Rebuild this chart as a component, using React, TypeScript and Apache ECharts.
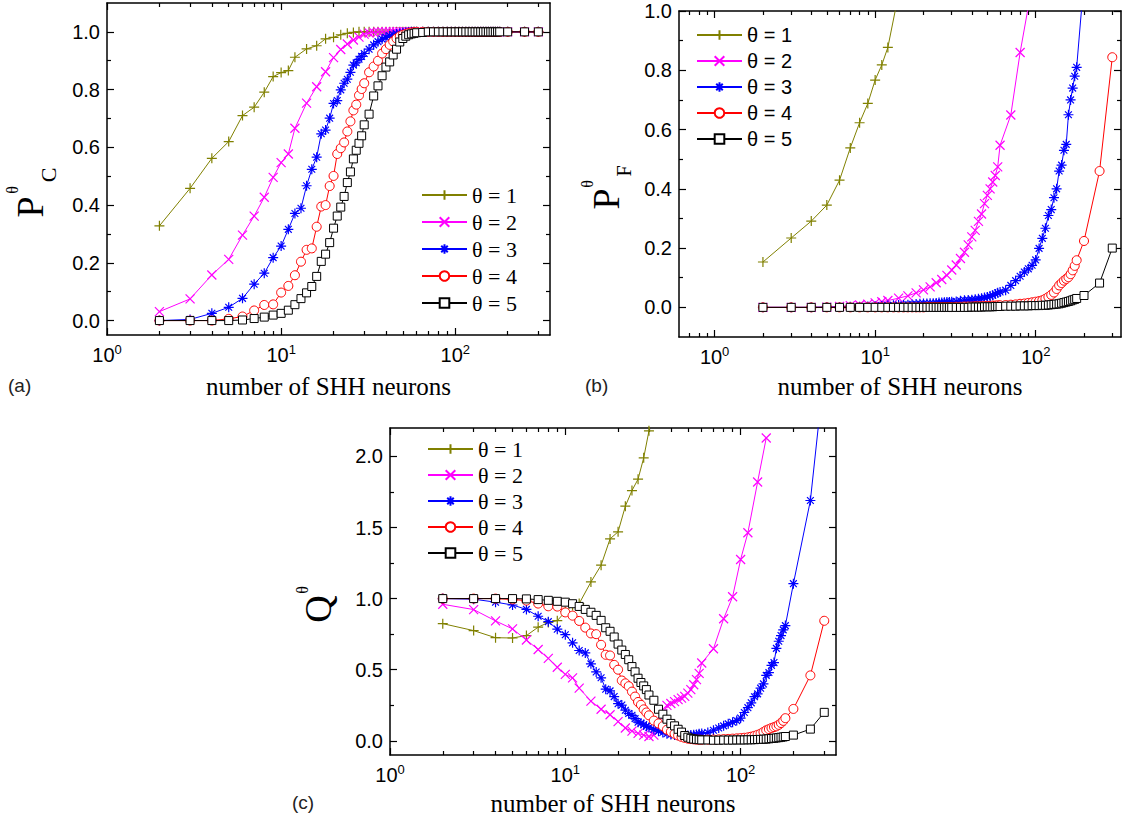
import React, { useEffect, useRef } from 'react';
import * as echarts from 'echarts';

const _ = null;

// number of SHH neurons (shared sampling grid)
const N = [2,3,4,5,6,7,8,9,10,11,12,13,14,15,16,17,18,19,20,21,22,23,24,25,26,27,28,29,30,
  32,34,36,38,40,42,44,46,48,50,52,54,56,58,60,
  65,70,75,80,85,90,95,100,105,110,115,120,125,130,135,140,145,150,155,160,165,170,175,180,185,190,195,200,
  250,300];

// (a) P_C
const pcT1 = [0.328,0.458,0.562,0.62,0.71,0.739,0.791,0.845,0.859,0.866,0.912,_,0.941,_,0.952,_,0.976,_,0.981,_,0.99,_,0.995,_,0.998,_,1,_,1,
  1,1,1,1,1,1,1,1,1,1,1,1,1,1,1,
  1,1,1,1,1,1,1,1,1,1,1,1,1,1,1,1,1,1,1,1,1,1,1,1,_,_,_,1,
  1,1];
const pcT2 = [0.031,0.075,0.158,0.212,0.296,0.362,0.427,0.496,0.547,0.577,0.666,_,0.753,_,0.81,_,0.862,_,0.911,_,0.939,_,0.958,_,0.972,_,0.982,_,0.992,
  0.996,0.998,1,1,1,1,1,1,1,1,1,1,1,1,1,
  1,1,1,1,1,1,1,1,1,1,1,1,1,1,1,1,1,1,1,1,1,1,1,1,_,_,_,1,
  1,1];
const pcT3 = [0,0.004,0.025,0.046,0.077,0.126,0.164,0.218,0.258,0.316,0.371,0.389,0.467,0.524,0.566,0.647,0.66,0.701,0.752,0.762,0.799,0.822,0.836,0.86,0.885,0.893,0.905,0.915,0.925,
  0.94,0.955,0.966,0.975,0.981,0.986,0.99,0.993,0.995,0.997,0.998,0.999,1,1,1,
  1,1,1,1,1,1,1,1,1,1,1,1,1,1,1,1,1,1,1,1,1,1,1,1,_,_,_,1,
  1,1];
const pcT4 = [0,0,0,0.006,0.014,0.035,0.054,0.056,0.097,0.12,0.157,0.204,0.245,0.25,0.325,0.395,0.4,0.466,0.501,0.577,0.597,0.617,0.655,0.69,0.728,0.748,0.78,0.802,0.822,
  0.86,0.88,0.9,0.925,0.94,0.955,0.967,0.977,0.985,0.99,0.993,0.996,0.998,0.999,1,
  1,1,1,1,1,1,1,1,1,1,1,1,1,1,1,1,1,1,1,1,1,1,1,1,_,_,_,1,
  1,1];
const pcT5 = [0,0,0,0,0.002,0.007,0.012,0.019,0.025,0.036,0.055,0.076,0.096,0.118,0.153,0.205,0.23,0.27,0.32,0.362,0.393,0.43,0.478,0.515,0.56,0.59,0.614,0.64,0.678,
  0.715,0.778,0.813,0.848,0.878,0.896,0.92,0.94,0.965,0.977,0.985,0.99,0.993,0.995,0.997,
  0.998,1,1,1,1,1,1,1,1,1,1,1,1,1,1,1,1,1,1,1,1,1,1,1,_,_,_,1,
  1,1];

// (b) P_F
const pfT1 = [0.153,0.234,0.291,0.345,0.429,0.538,0.623,0.688,0.767,0.818,0.877,_,1.058,_,1.19];
const pfT2 = [0,0,0,0.001,0.003,0.006,0.008,0.011,0.015,0.019,0.023,_,0.031,_,0.039,_,0.049,_,0.059,_,0.069,_,0.083,_,0.094,_,0.108,_,0.126,
  0.143,0.165,0.186,0.211,0.238,0.26,0.29,0.315,0.35,0.378,0.4,0.423,0.445,0.474,0.547,
  _,0.649,_,0.86,_,1.015,_,1.275,_,1.463,_,_,1.82,_,_,2.13];
const pfT3 = [0,0,0,0.001,0.001,0.002,0.002,0.003,0.004,0.005,0.006,0.007,0.008,0.008,0.009,0.01,0.011,0.012,0.013,0.013,0.014,0.014,0.015,0.016,0.016,0.017,0.018,0.018,0.019,
  0.02,0.022,0.024,0.025,0.026,0.027,0.029,0.031,0.033,0.035,0.038,0.041,0.045,0.049,0.052,
  0.058,0.074,0.09,0.105,0.119,0.13,0.142,0.16,0.199,0.233,0.267,0.31,0.33,0.37,0.4,0.46,0.48,0.53,0.55,0.65,0.7,0.74,0.78,0.81,_,_,_,1.105,
  1.69,2.6];
const pfT4 = [0,0,0,0,0,0,0,0,0,0,0,0,0,0,0,0,0,0,0,0.001,0.001,0.001,0.001,0.001,0.001,0.001,0.001,0.001,0.001,
  0.002,0.002,0.003,0.003,0.003,0.004,0.004,0.004,0.005,0.005,0.005,0.006,0.006,0.007,0.007,
  0.008,0.009,0.01,0.012,0.013,0.015,0.017,0.019,0.021,0.024,0.029,0.035,0.042,0.05,0.062,0.074,0.082,0.09,0.096,0.102,0.112,0.125,0.14,0.159,_,_,_,0.224,
  0.46,0.844];
const pfT5 = [0,0,0,0,0,0,0,0,0,0,0,0,0,0,0,0,0,0,0,0,0,0,0,0,0,0,0,0,0,
  0,0,0,0,0.001,0.001,0.001,0.001,0.002,0.002,0.002,0.002,0.003,0.003,0.003,
  0.004,0.004,0.004,0.005,0.005,0.005,0.006,0.006,0.006,0.007,0.007,0.008,0.009,0.01,0.011,0.012,0.014,0.016,0.018,0.02,0.022,0.025,0.027,0.03,_,_,_,0.04,
  0.082,0.2];

// (c) Q
const qT1 = [0.824,0.775,0.725,0.723,0.74,0.799,0.832,0.845,0.908,0.952,0.965,_,1.117,_,1.235,_,1.42,_,1.47,_,1.65,_,1.76,_,1.84,_,1.99,_,2.18,
  2.35];
const qT2 = [0.96,0.923,0.843,0.787,0.709,0.642,0.58,0.517,0.467,0.442,0.37,_,0.279,_,0.222,_,0.183,_,0.135,_,0.09,_,0.068,_,0.052,_,0.04,_,0.03,
  0.04,0.1,0.19,0.249,0.262,0.275,0.289,0.3,0.312,0.335,0.36,0.394,0.43,0.474,0.547,
  _,0.647,_,0.858,_,1.013,_,1.275,_,1.463,_,_,1.82,_,_,2.13];
const qT3 = [1,0.996,0.975,0.955,0.924,0.876,0.838,0.785,0.746,0.689,0.635,0.618,0.541,0.484,0.443,0.363,0.351,0.311,0.261,0.251,0.215,0.192,0.179,0.156,0.131,0.124,0.113,0.103,0.094,
  0.08,0.067,0.058,0.05,0.045,0.041,0.039,0.038,0.038,0.038,0.04,0.042,0.045,0.049,0.052,
  0.058,0.074,0.09,0.105,0.119,0.13,0.142,0.16,0.199,0.233,0.267,0.31,0.33,0.37,0.4,0.46,0.48,0.53,0.55,0.65,0.7,0.74,0.78,0.81,_,_,_,1.105,
  1.69,2.6];
const qT4 = [1,1,1,0.994,0.986,0.965,0.946,0.944,0.903,0.88,0.843,0.796,0.755,0.75,0.675,0.605,0.6,0.534,0.5,0.424,0.404,0.384,0.346,0.311,0.273,0.253,0.221,0.199,0.179,
  0.142,0.122,0.103,0.078,0.063,0.049,0.037,0.027,0.02,0.015,0.012,0.01,0.008,0.008,0.007,
  0.008,0.009,0.01,0.012,0.013,0.015,0.017,0.019,0.021,0.024,0.029,0.035,0.042,0.05,0.062,0.074,0.082,0.09,0.096,0.102,0.112,0.125,0.14,0.159,_,_,_,0.224,
  0.46,0.844];
const qT5 = [1,1,1,1,0.998,0.993,0.988,0.981,0.975,0.964,0.945,0.924,0.904,0.882,0.847,0.795,0.77,0.73,0.68,0.638,0.607,0.57,0.522,0.485,0.44,0.41,0.386,0.36,0.322,
  0.285,0.222,0.187,0.152,0.122,0.105,0.081,0.061,0.037,0.025,0.017,0.012,0.01,0.008,0.006,
  0.006,0.004,0.004,0.005,0.005,0.005,0.006,0.006,0.006,0.007,0.007,0.008,0.009,0.01,0.011,0.012,0.014,0.016,0.018,0.02,0.022,0.025,0.027,0.03,_,_,_,0.04,
  0.082,0.2];

const THETA = ['θ = 1', 'θ = 2', 'θ = 3', 'θ = 4', 'θ = 5'];
const X_MAJOR = [1, 10, 100];
const X_MINOR = [0.7, 0.8, 0.9, 2, 3, 4, 5, 6, 7, 8, 9, 20, 30, 40, 50, 60, 70, 80, 90, 200, 300];
const Y_AB_MAJOR = [0, 0.2, 0.4, 0.6, 0.8, 1.0];
const Y_AB_MINOR = [0.1, 0.3, 0.5, 0.7, 0.9];
const Y_C_MAJOR = [0, 0.5, 1.0, 1.5, 2.0];
const Y_C_MINOR = [0.25, 0.75, 1.25, 1.75];
const X_TITLE = 'number of SHH neurons';

const SERIF = 'Liberation Serif';
const SANS = 'Liberation Sans';

const MARKERS = [
  { symbol: 'path://M0,5L10,5M5,0L5,10', color: '#808000', size: 10, hollow: false },
  { symbol: 'path://M0,0L10,10M10,0L0,10', color: '#ff00ff', size: 9, hollow: false },
  { symbol: 'path://M5,0L5,10M0,5L10,5M1.6,1.6L8.4,8.4M8.4,1.6L1.6,8.4', color: '#0000ff', size: 10, hollow: false },
  { symbol: 'circle', color: '#ff0000', size: 9, hollow: true },
  { symbol: 'rect', color: '#000000', size: 8, hollow: true },
];

const PANELS = [
  {
    grid: { left: 107, top: 3, width: 443, height: 332 },
    xMin: 1, xMax: 350, yMin: -0.05, yMax: 1.1,
    yMajor: Y_AB_MAJOR, yMinor: Y_AB_MINOR,
    values: [pcT1, pcT2, pcT3, pcT4, pcT5],
    legend: { left: 421, top: 184, itemGap: 5, font: SERIF, size: 22 },
    nameGap: 39,
  },
  {
    grid: { left: 679, top: 11, width: 442, height: 326 },
    xMin: 0.6, xMax: 340, yMin: -0.1, yMax: 1.0,
    yMajor: Y_AB_MAJOR, yMinor: Y_AB_MINOR,
    values: [pfT1, pfT2, pfT3, pfT4, pfT5],
    legend: { left: 696, top: 25, itemGap: 6, font: SANS, size: 20 },
    nameGap: 37,
  },
  {
    grid: { left: 390, top: 428, width: 446, height: 327 },
    xMin: 1, xMax: 350, yMin: -0.1, yMax: 2.2,
    yMajor: Y_C_MAJOR, yMinor: Y_C_MINOR,
    values: [qT1, qT2, qT3, qT4, qT5],
    legend: { left: 427, top: 438, itemGap: 4, font: SERIF, size: 22 },
    nameGap: 36,
  },
];

const Y_TITLES = [
  [{ t: 'P', x: 30, y: 207, s: 38 }, { t: 'θ', x: 12, y: 190, s: 16 }, { t: 'C', x: 48, y: 175, s: 22 }],
  [{ t: 'P', x: 606, y: 199, s: 38 }, { t: 'θ', x: 587, y: 184, s: 16 }, { t: 'F', x: 624, y: 171, s: 20 }],
  [{ t: 'Q', x: 318, y: 609, s: 38 }, { t: 'θ', x: 302, y: 590, s: 16 }],
];

const PANEL_LABELS = [
  { t: '(a)', x: 8, y: 385 },
  { t: '(b)', x: 585, y: 385 },
  { t: '(c)', x: 292, y: 802 },
];

function buildOption() {
  const grid: any[] = [];
  const xAxis: any[] = [];
  const yAxis: any[] = [];
  const series: any[] = [];
  const legend: any[] = [];
  const black = { color: '#000', width: 1.5 };
  const tickStyle = { color: '#000', width: 1.2 };

  PANELS.forEach((p, pi) => {
    grid.push({ ...p.grid, containLabel: false, show: false });
    const xm = X_MINOR.filter(v => v > p.xMin && v < p.xMax);
    const baseX = {
      gridIndex: pi, type: 'log', logBase: 10, min: p.xMin, max: p.xMax,
      splitLine: { show: false }, minorTick: { show: false }, minorSplitLine: { show: false },
    };
    xAxis.push({
      ...baseX, position: 'bottom',
      axisLine: { show: true, onZero: false, lineStyle: black },
      axisTick: { show: true, inside: true, length: 7, customValues: X_MAJOR, lineStyle: tickStyle },
      axisLabel: {
        show: true, customValues: X_MAJOR, margin: 8,
        formatter: (v: number) => `{b|10}{s|${Math.round(Math.log10(v))}}`,
        rich: {
          b: { fontFamily: SANS, fontSize: 20, color: '#000' },
          s: { fontFamily: SANS, fontSize: 13, color: '#000', padding: [0, 0, 10, 0] },
        },
      },
      name: X_TITLE, nameLocation: 'middle', nameGap: p.nameGap,
      nameTextStyle: { fontFamily: SERIF, fontSize: 25, color: '#000' },
    });
    xAxis.push({
      ...baseX, position: 'bottom',
      axisLine: { show: false, onZero: false },
      axisTick: { show: true, inside: true, length: 4, customValues: xm, lineStyle: tickStyle },
      axisLabel: { show: false },
    });
    xAxis.push({
      ...baseX, position: 'top',
      axisLine: { show: true, onZero: false, lineStyle: black },
      axisTick: { show: true, inside: true, length: 7, customValues: X_MAJOR, lineStyle: tickStyle },
      axisLabel: { show: false },
    });
    xAxis.push({
      ...baseX, position: 'top',
      axisLine: { show: false, onZero: false },
      axisTick: { show: true, inside: true, length: 4, customValues: xm, lineStyle: tickStyle },
      axisLabel: { show: false },
    });

    const baseY = {
      gridIndex: pi, type: 'value', min: p.yMin, max: p.yMax,
      splitLine: { show: false }, minorTick: { show: false },
    };
    yAxis.push({
      ...baseY, position: 'left',
      axisLine: { show: true, onZero: false, lineStyle: black },
      axisTick: { show: true, inside: true, length: 7, customValues: p.yMajor, lineStyle: tickStyle },
      axisLabel: {
        show: true, customValues: p.yMajor, margin: 7,
        formatter: (v: number) => v.toFixed(1),
        fontFamily: SANS, fontSize: 20, color: '#000',
      },
    });
    yAxis.push({
      ...baseY, position: 'left',
      axisLine: { show: false, onZero: false },
      axisTick: { show: true, inside: true, length: 4, customValues: p.yMinor, lineStyle: tickStyle },
      axisLabel: { show: false },
    });
    yAxis.push({
      ...baseY, position: 'right',
      axisLine: { show: true, onZero: false, lineStyle: black },
      axisTick: { show: true, inside: true, length: 7, customValues: p.yMajor, lineStyle: tickStyle },
      axisLabel: { show: false },
    });
    yAxis.push({
      ...baseY, position: 'right',
      axisLine: { show: false, onZero: false },
      axisTick: { show: true, inside: true, length: 4, customValues: p.yMinor, lineStyle: tickStyle },
      axisLabel: { show: false },
    });

    p.values.forEach((vals, k) => {
      const m = MARKERS[k];
      series.push({
        type: 'line', name: THETA[k],
        xAxisIndex: pi * 4, yAxisIndex: pi * 4,
        data: N.map((n, i) => [n, vals[i]]).filter(d => d[1] != null),
        symbol: m.symbol, symbolSize: m.size,
        showSymbol: true, showAllSymbol: true,
        connectNulls: true, clip: true, silent: true,
        lineStyle: { color: m.color, width: 1 },
        itemStyle: m.hollow
          ? { color: '#ffffff', borderColor: m.color, borderWidth: 1 }
          : { color: m.color, borderColor: m.color, borderWidth: 1.2 },
        emphasis: { disabled: true },
        z: 2 + k,
      });
    });

    legend.push({
      orient: 'vertical', left: p.legend.left, top: p.legend.top,
      itemWidth: 45, itemHeight: 12, itemGap: p.legend.itemGap, padding: 0,
      selectedMode: false,
      data: THETA,
      textStyle: { fontFamily: p.legend.font, fontSize: p.legend.size, color: '#000', lineHeight: p.legend.size },
    });
  });

  const graphic: any[] = [];
  Y_TITLES.forEach(parts => parts.forEach(q => {
    graphic.push({
      type: 'text', x: q.x, y: q.y, rotation: Math.PI / 2, silent: true,
      style: {
        text: q.t, font: `${q.s}px "${SERIF}"`, fill: '#000',
        align: 'center', verticalAlign: 'middle', textAlign: 'center', textVerticalAlign: 'middle',
      },
    });
  }));
  PANEL_LABELS.forEach(l => {
    graphic.push({
      type: 'text', x: l.x, y: l.y, silent: true,
      style: {
        text: l.t, font: `19px "${SANS}"`, fill: '#222',
        verticalAlign: 'middle', textVerticalAlign: 'middle',
      },
    });
  });

  return {
    animation: false,
    backgroundColor: '#ffffff',
    grid, xAxis, yAxis, series, legend, graphic,
  };
}

export default function App() {
  const ref = useRef<HTMLDivElement>(null);
  useEffect(() => {
    const chart = echarts.init(ref.current as HTMLDivElement, null, { renderer: 'svg', width: 1126, height: 820 });
    chart.setOption(buildOption() as any);
    return () => chart.dispose();
  }, []);
  return (
    <div
      ref={ref}
      style={{ position: 'fixed', left: 0, top: 0, width: 1126, height: 820, background: '#fff' }}
    />
  );
}
